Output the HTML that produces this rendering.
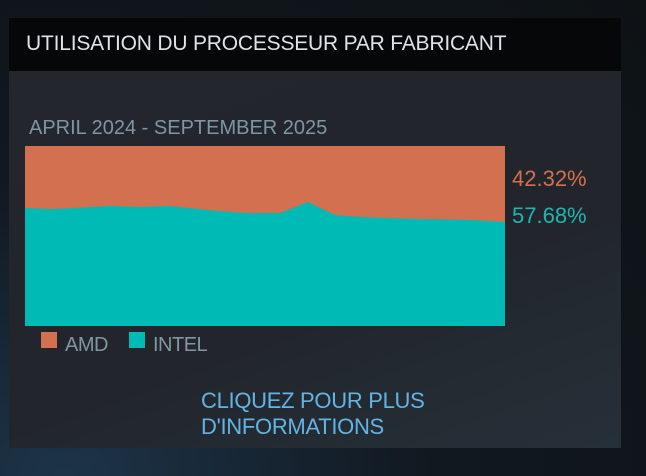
<!DOCTYPE html>
<html><head><meta charset="utf-8"><style>
body{margin:0;width:646px;height:476px;overflow:hidden;background:radial-gradient(ellipse at 10% 100%,#1d3448 0%,#111820 45%,#0e1215 100%);font-family:"Liberation Sans",sans-serif;position:relative}
.hdr{position:absolute;left:9px;top:18px;width:612px;height:53px;background:#050708}
.hdr span{position:absolute;left:17px;top:14px;font-size:21px;color:#dfe3e6;letter-spacing:-0.2px}
.pan{position:absolute;left:9px;top:71px;width:612px;height:377px;background:linear-gradient(160deg,#23272d 0%,#22262c 60%,#263039 100%)}
.t{position:absolute;white-space:nowrap;letter-spacing:-0.5px}
</style></head><body>
<div class="hdr"><span>UTILISATION DU PROCESSEUR PAR FABRICANT</span></div>
<div class="pan"></div>
<div class="t" style="left:29px;top:117px;color:#7e95a3;font-size:20px;letter-spacing:0">APRIL 2024 - SEPTEMBER 2025</div>
<svg style="position:absolute;left:0;top:0" width="646" height="476">
<rect x="25" y="146" width="480" height="180" fill="#d2704f"/>
<polygon fill="#00bbb5" points="25,208 53,209 111,206 140,207 169,206 189,208 218,211 247,213 280,213 308,202 335,215 362,217 387,218 420,219 473,220 505,222 505,326 25,326"/>
<rect x="41" y="332" width="16" height="16" fill="#d2704f"/>
<rect x="129" y="332" width="16" height="16" fill="#00bbb5"/>
</svg>
<div class="t" style="left:512px;top:166px;color:#d2704f;font-size:22px;letter-spacing:0">42.32%</div>
<div class="t" style="left:512px;top:203px;color:#1ab7b0;font-size:22px;letter-spacing:0">57.68%</div>
<div class="t" style="left:65px;top:334px;color:#8196a4;font-size:20px">AMD</div>
<div class="t" style="left:153px;top:334px;color:#8196a4;font-size:20px">INTEL</div>
<div class="t" style="left:201px;top:388px;color:#62b4e4;line-height:26px;font-size:22px;letter-spacing:-0.3px">CLIQUEZ POUR PLUS<br>D'INFORMATIONS</div>
</body></html>
